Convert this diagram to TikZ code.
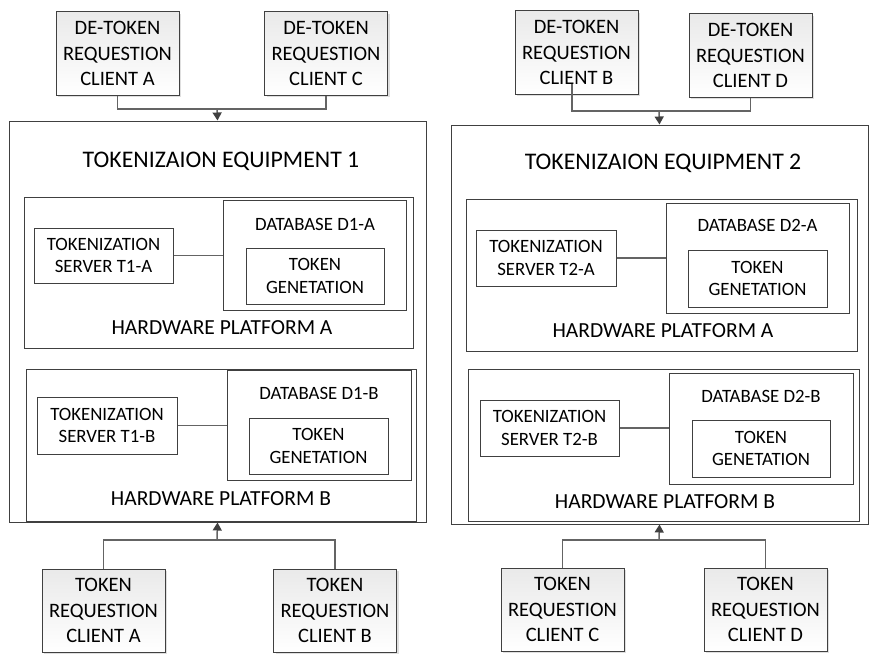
\documentclass[tikz,border=0pt]{standalone}
\usepackage{fontspec}
\setmainfont{Carlito}
\usetikzlibrary{positioning,arrows.meta,shadows}
\definecolor{boxgray}{RGB}{64,64,64}
\definecolor{linkgray}{RGB}{100,100,100}

\begin{document}
\begin{tikzpicture}[x=1pt, y=-1pt,
    every node/.style={draw=boxgray, line width=1pt, inner sep=0pt, align=center},
    client/.style={top color=gray!17, bottom color=white, drop shadow={shadow xshift=2pt, shadow yshift=-2pt, opacity=0.25}, minimum width=123pt, minimum height=83pt, font=\fontsize{20.5}{25.5}\selectfont},
    inbox/.style={font=\fontsize{18.8}{22.3}\selectfont},
    caption/.style={draw=none, font=\fontsize{21.5}{25}\selectfont},
    link/.style={draw=linkgray, line width=1.5pt},
    arr/.style={link, -{Triangle[length=8pt, width=9pt, color=boxgray]}}]
  \useasboundingbox (0,0) rectangle (883,669);

  % equipment 1
  \node[client] (dtA) at (117.5,53.5) {DE-TOKEN\\REQUESTION\\CLIENT A};
  \node[client] (dtC) at (326,53.5) {DE-TOKEN\\REQUESTION\\CLIENT C};
  \node[minimum width=417pt, minimum height=401pt] (equip1) at (217.5,321.5) {};
  \node[caption, font=\fontsize{23.8}{28}\selectfont] (title1) at (221,161) {TOKENIZAION EQUIPMENT 1};

  \node[minimum width=389pt, minimum height=151pt] (hw1a) at (218.5,272.5) {};
  \node[inbox, minimum width=139pt, minimum height=55pt] (srv1a) at (103.5,255.5) {TOKENIZATION\\SERVER T1-A};
  \node[minimum width=183pt, minimum height=110pt] (db1a) at (314.5,255) {};
  \node[caption, inbox] (dbl1a) at (315,224) {DATABASE D1-A};
  \node[inbox, minimum width=138pt, minimum height=56pt] (tg1a) at (315,276) {TOKEN\\GENETATION};
  \node[caption] (hwl1a) at (222,328) {HARDWARE PLATFORM A};

  \node[minimum width=390pt, minimum height=152pt] (hw1b) at (221,445) {};
  \node[inbox, minimum width=140pt, minimum height=57pt] (srv1b) at (107,425.5) {TOKENIZATION\\SERVER T1-B};
  \node[minimum width=184pt, minimum height=110pt] (db1b) at (319,425) {};
  \node[caption, inbox] (dbl1b) at (319,393) {DATABASE D1-B};
  \node[inbox, minimum width=139pt, minimum height=56pt] (tg1b) at (318.5,446) {TOKEN\\GENETATION};
  \node[caption] (hwl1b) at (221,499) {HARDWARE PLATFORM B};

  \node[client] (trA) at (103.5,610.5) {TOKEN\\REQUESTION\\CLIENT A};
  \node[client] (trB) at (335,610.5) {TOKEN\\REQUESTION\\CLIENT B};

  \coordinate (k1) at (217,109);
  \coordinate (j1) at (217,540);
  \draw[link] (dtA.south) |- (k1) -| (dtC.south);
  \draw[arr] (k1) -- (equip1.north);
  \draw[link] (srv1a) -- (db1a.west |- srv1a);
  \draw[link] (srv1b) -- (db1b.west |- srv1b);
  \draw[link] (trA.north) |- (j1) -| (trB.north);
  \draw[arr] (j1) -- (equip1.south);

  % equipment 2
  \node[client] (dtB) at (576.5,52.5) {DE-TOKEN\\REQUESTION\\CLIENT B};
  \node[client] (dtD) at (750.5,55.5) {DE-TOKEN\\REQUESTION\\CLIENT D};
  \node[minimum width=417pt, minimum height=399pt] (equip2) at (659.5,324.5) {};
  \node[caption, font=\fontsize{23.8}{28}\selectfont] (title2) at (663,163) {TOKENIZAION EQUIPMENT 2};

  \node[minimum width=391pt, minimum height=152pt] (hw2a) at (661.5,275) {};
  \node[inbox, minimum width=140pt, minimum height=56pt] (srv2a) at (546,258) {TOKENIZATION\\SERVER T2-A};
  \node[minimum width=183pt, minimum height=110pt] (db2a) at (757.5,258) {};
  \node[caption, inbox] (dbl2a) at (757.5,225) {DATABASE D2-A};
  \node[inbox, minimum width=139pt, minimum height=57pt] (tg2a) at (757.5,278.5) {TOKEN\\GENETATION};
  \node[caption] (hwl2a) at (663,331) {HARDWARE PLATFORM A};

  \node[minimum width=391pt, minimum height=152pt] (hw2b) at (663.5,445) {};
  \node[inbox, minimum width=139pt, minimum height=56pt] (srv2b) at (549.5,428) {TOKENIZATION\\SERVER T2-B};
  \node[minimum width=184pt, minimum height=111pt] (db2b) at (761,428.5) {};
  \node[caption, inbox] (dbl2b) at (761,396) {DATABASE D2-B};
  \node[inbox, minimum width=138pt, minimum height=57pt] (tg2b) at (761,448.5) {TOKEN\\GENETATION};
  \node[caption] (hwl2b) at (665,502) {HARDWARE PLATFORM B};

  \node[client] (trC) at (562.5,609.5) {TOKEN\\REQUESTION\\CLIENT C};
  \node[client] (trD) at (765.5,609.5) {TOKEN\\REQUESTION\\CLIENT D};

  \coordinate (k2) at (659,111);
  \coordinate (j2) at (659,540);
  \draw[link] ([xshift=-4.5pt, yshift=11pt]dtB.south) |- (k2) -| (dtD.south);
  \draw[arr] (k2) -- (equip2.north);
  \draw[link] (srv2a) -- (db2a.west |- srv2a);
  \draw[link] (srv2b) -- (db2b.west |- srv2b);
  \draw[link] (trC.north) |- (j2) -| (trD.north);
  \draw[arr] (j2) -- (equip2.south);
\end{tikzpicture}
\end{document}
